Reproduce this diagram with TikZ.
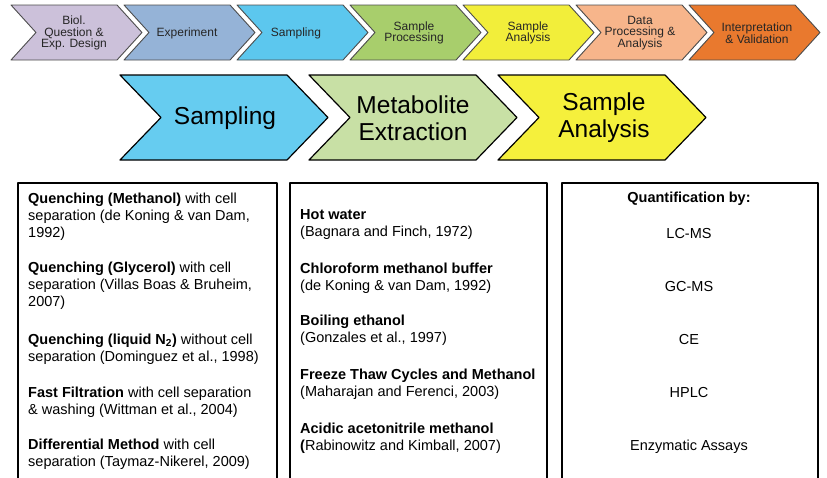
\documentclass[tikz,border=0pt]{standalone}
\usepackage{fontspec}
\setmainfont{Liberation Sans}
\usepackage{xcolor}
\usepackage{tikz}
\definecolor{biolpurple}{RGB}{204,193,218}
\definecolor{exptblue}{RGB}{149,179,215}
\definecolor{sampblue}{RGB}{92,199,238}
\definecolor{procgreen}{RGB}{168,206,108}
\definecolor{analyellow}{RGB}{242,238,58}
\definecolor{datapeach}{RGB}{247,181,139}
\definecolor{interorange}{RGB}{233,121,46}
\definecolor{bigblue}{RGB}{102,204,240}
\definecolor{biggreen}{RGB}{200,224,165}
\definecolor{bigyellow}{RGB}{245,240,60}

\begin{document}
\begin{tikzpicture}[line cap=round,line join=round,x=1pt,y=-1pt,
  smallchev/.style={draw=black!70,line width=0.9pt},
  bigchev/.style={draw=black,line width=1.2pt},
  bartext/.style={font=\fontsize{12}{11.5}\selectfont,align=center,inner sep=0pt,text=black!85},
  bigtext/.style={font=\fontsize{24.5}{27}\selectfont,align=center,inner sep=0pt},
  itemtext/.style={font=\fontsize{14.5}{17}\selectfont,align=left,inner sep=0pt,anchor=north west},
  quanttext/.style={font=\fontsize{14.5}{17}\selectfont,inner sep=0pt,anchor=base}]
\clip(0,0) rectangle (827,477);
% workflow bar
\filldraw[smallchev,fill=biolpurple] (11,5)-- (117,5)-- (142,32.5)-- (117,60)-- (11,60)-- (36,32.5)-- cycle;
\filldraw[smallchev,fill=exptblue] (124,5)-- (230,5)-- (255,32.5)-- (230,60)-- (124,60)-- (149,32.5)-- cycle;
\filldraw[smallchev,fill=sampblue] (237,5)-- (343,5)-- (368,32.5)-- (343,60)-- (237,60)-- (262,32.5)-- cycle;
\filldraw[smallchev,fill=procgreen] (350,5)-- (456,5)-- (481,32.5)-- (456,60)-- (350,60)-- (375,32.5)-- cycle;
\filldraw[smallchev,fill=analyellow] (463,5)-- (569,5)-- (594,32.5)-- (569,60)-- (463,60)-- (488,32.5)-- cycle;
\filldraw[smallchev,fill=datapeach] (576,5)-- (682,5)-- (707,32.5)-- (682,60)-- (576,60)-- (601,32.5)-- cycle;
\filldraw[smallchev,fill=interorange] (689,5)-- (795,5)-- (820,32.5)-- (795,60)-- (689,60)-- (714,32.5)-- cycle;
\node[bartext] (biol) at (74,33) {Biol.\\Question \&\\Exp. Design};
\node[bartext] (experiment) at (187,33) {Experiment};
\node[bartext] (sampling) at (296,33) {Sampling};
\node[bartext] (processing) at (414,33) {Sample\\Processing};
\node[bartext] (analysis) at (528,33) {Sample\\Analysis};
\node[bartext] (dataproc) at (640,33) {Data\\Processing \&\\Analysis};
\node[bartext] (interpret) at (757,33) {Interpretation\\\& Validation};
% zoomed steps
\filldraw[bigchev,fill=bigblue] (120,75)-- (287,75)-- (328,117.5)-- (287,160)-- (120,160)-- (161,117.5)-- cycle;
\filldraw[bigchev,fill=biggreen] (309,75)-- (476,75)-- (517,117.5)-- (476,160)-- (309,160)-- (350,117.5)-- cycle;
\filldraw[bigchev,fill=bigyellow] (498,75)-- (665,75)-- (706,117.5)-- (665,160)-- (498,160)-- (539,117.5)-- cycle;
\node[bigtext] (samp) at (225,118) {Sampling};
\node[bigtext] (extract) at (413,118) {Metabolite\\Extraction};
\node[bigtext] (sanalysis) at (604,118) {Sample\\Analysis};
% boxes
\draw[line width=1.2pt] (18,490)-- (18,183)-- (277,183)-- (277,490);
\draw[line width=1.2pt] (290,490)-- (290,183)-- (547,183)-- (547,490);
\draw[line width=1.2pt] (562,490)-- (562,183)-- (818,183)-- (818,490);
\node[itemtext] (q1) at (28,192.5) {\textbf{Quenching (Methanol)} with cell\\separation (de Koning \& van Dam,\\1992)};
\node[itemtext] (q2) at (28,261.5) {\textbf{Quenching (Glycerol)} with cell\\separation (Villas Boas \& Bruheim,\\2007)};
\node[itemtext] (q3) at (28,333.5) {\textbf{Quenching (liquid N\textsubscript{2})} without cell\\separation (Dominguez et al., 1998)};
\node[itemtext] (q4) at (28,386.5) {\textbf{Fast Filtration} with cell separation\\\& washing (Wittman et al., 2004)};
\node[itemtext] (q5) at (28,438.5) {\textbf{Differential Method} with cell\\separation (Taymaz-Nikerel, 2009)};
\node[itemtext] (e1) at (300,209.5) {\textbf{Hot water}\\(Bagnara and Finch, 1972)};
\node[itemtext] (e2) at (300,262.5) {\textbf{Chloroform methanol buffer}\\(de Koning \& van Dam, 1992)};
\node[itemtext] (e3) at (300,314.5) {\textbf{Boiling ethanol}\\(Gonzales et al., 1997)};
\node[itemtext] (e4) at (300,368.5) {\textbf{Freeze Thaw Cycles and Methanol}\\(Maharajan and Ferenci, 2003)};
\node[itemtext] (e5) at (300,422.5) {\textbf{Acidic acetonitrile methanol}\\\textbf{(}Rabinowitz and Kimball, 2007)};
\node[quanttext] (m0) at (689,202) {\textbf{Quantification by:}};
\node[quanttext] (m1) at (689,238) {LC-MS};
\node[quanttext] (m2) at (689,291) {GC-MS};
\node[quanttext] (m3) at (689,344) {CE};
\node[quanttext] (m4) at (689,397) {HPLC};
\node[quanttext] (m5) at (689,450) {Enzymatic Assays};
\end{tikzpicture}
\end{document}
